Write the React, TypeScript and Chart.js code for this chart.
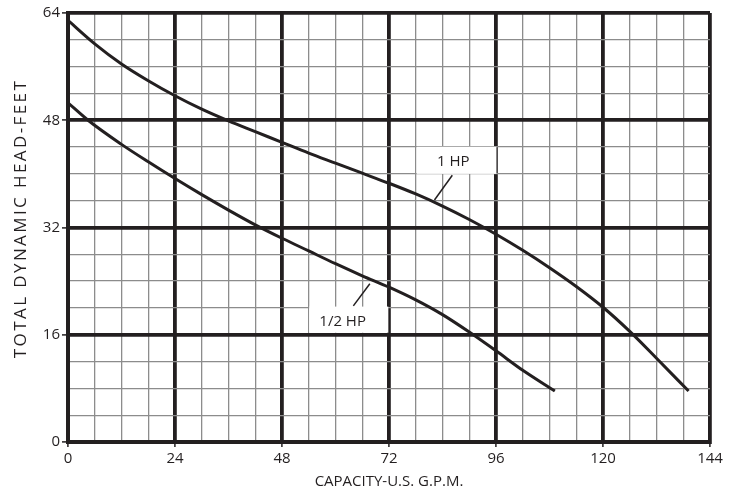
import React, { useEffect, useRef } from "react";
import { Chart, registerables } from "chart.js";
Chart.register(...registerables);

// Pump curves: capacity (U.S. GPM) vs total dynamic head (feet)
const capacity1HP = [0, 6, 12, 18, 24, 30, 36, 42, 48, 54, 60, 66, 72, 78, 84, 90, 96, 102, 108, 114, 120, 126, 132, 139.2];
const head1HP = [62.9, 59.4, 56.4, 53.9, 51.65, 49.65, 47.9, 46.3, 44.7, 43.1, 41.6, 40.1, 38.6, 37.0, 35.2, 33.2, 31.0, 28.6, 26.0, 23.2, 20.1, 16.5, 12.5, 7.6];

const capacityHalfHP = [0, 4.5, 12, 18, 24, 30, 36, 42, 48, 54, 60, 66, 72, 78, 84, 90, 96, 102, 109.2];
const headHalfHP = [50.6, 48, 44.4, 41.8, 39.3, 36.9, 34.6, 32.4, 30.4, 28.5, 26.6, 24.8, 23.1, 21.2, 19.0, 16.4, 13.6, 10.7, 7.6];

const xTickLabels = [0, 24, 48, 72, 96, 120, 144];
const yTickLabels = [0, 16, 32, 48, 64];

const xTitle = "CAPACITY-U.S. G.P.M.";
const yTitle = "TOTAL DYNAMIC HEAD-FEET";

const seriesNames = ["1 HP", "1/2 HP"];
// callout positions in data units
const calloutText = [86.4, 41.8, 61.6, 17.95];
const calloutBox = [
  [78.2, 96.1, 44.05, 40.0],
  [54.1, 71.85, 20.2, 16.3],
];
const calloutLeader = [
  [86.2, 39.8, 82.2, 36.1],
  [67.7, 23.6, 64.0, 20.3],
];

const INK = "#231f20";
const MINOR = "#8c8c8c";
const FONT = "'Open Sans', 'Liberation Sans', sans-serif";

const toPts = (xs: number[], ys: number[]) => xs.map((x, i) => ({ x, y: ys[i] }));

const calloutPlugin = {
  id: "callouts",
  beforeDatasetsDraw(chart: any) {
    const { ctx, scales } = chart;
    const xs = scales.x;
    const ys = scales.y;
    ctx.save();
    seriesNames.forEach((name, i) => {
      const [x0, x1, y0, y1] = calloutBox[i];
      const px0 = xs.getPixelForValue(x0);
      const px1 = xs.getPixelForValue(x1);
      const py0 = ys.getPixelForValue(y0);
      const py1 = ys.getPixelForValue(y1);
      ctx.fillStyle = "#ffffff";
      ctx.fillRect(px0, py0, px1 - px0, py1 - py0);
    });
    ctx.restore();
  },
  afterDatasetsDraw(chart: any) {
    const { ctx, scales, chartArea } = chart;
    const xs = scales.x;
    const ys = scales.y;
    ctx.save();
    seriesNames.forEach((name, i) => {
      const tx = xs.getPixelForValue(calloutText[i * 2]);
      const ty = ys.getPixelForValue(calloutText[i * 2 + 1]);
      ctx.fillStyle = INK;
      ctx.font = `15px ${FONT}`;
      ctx.textAlign = "center";
      ctx.textBaseline = "middle";
      ctx.fillText(name, tx, ty);
      const [a, b, c, d] = calloutLeader[i];
      ctx.strokeStyle = INK;
      ctx.lineWidth = 1.5;
      ctx.beginPath();
      ctx.moveTo(xs.getPixelForValue(a), ys.getPixelForValue(b));
      ctx.lineTo(xs.getPixelForValue(c), ys.getPixelForValue(d));
      ctx.stroke();
    });
    // y-axis title with letter spacing
    ctx.translate(21, (chartArea.top + chartArea.bottom) / 2 - 9);
    ctx.rotate(-Math.PI / 2);
    ctx.font = `17px ${FONT}`;
    (ctx as any).letterSpacing = "2.4px";
    ctx.textAlign = "center";
    ctx.textBaseline = "middle";
    ctx.fillStyle = INK;
    ctx.fillText(yTitle, 0, 0);
    ctx.restore();
  },
};

export default function App() {
  const ref = useRef<HTMLCanvasElement | null>(null);
  useEffect(() => {
    if (!ref.current) return;
    const isMajorX = (v: number) => xTickLabels.includes(v);
    const isMajorY = (v: number) => yTickLabels.includes(v);
    const chart = new Chart(ref.current, {
      type: "line",
      data: {
        datasets: [
          {
            label: seriesNames[0],
            data: toPts(capacity1HP, head1HP),
            borderColor: INK,
            borderWidth: 3,
            pointRadius: 0,
            cubicInterpolationMode: "monotone",
            fill: false,
          },
          {
            label: seriesNames[1],
            data: toPts(capacityHalfHP, headHalfHP),
            borderColor: INK,
            borderWidth: 3,
            pointRadius: 0,
            cubicInterpolationMode: "monotone",
            fill: false,
          },
        ],
      },
      options: {
        responsive: false,
        animation: false,
        layout: { padding: { top: 13, right: 29, left: 0, bottom: 0 } },
        plugins: { legend: { display: false }, tooltip: { enabled: false } },
        scales: {
          x: {
            type: "linear",
            min: 0,
            max: 144,
            afterFit: (s: any) => {
              s.height = 52;
            },
            ticks: {
              stepSize: 6,
              autoSkip: false,
              maxRotation: 0,
              padding: 3,
              color: INK,
              font: { family: FONT, size: 15 },
              callback: (v: any) => (isMajorX(v) ? String(v) : ""),
            },
            grid: {
              color: (c: any) => (isMajorX(c.tick.value) ? INK : MINOR),
              lineWidth: (c: any) => (isMajorX(c.tick.value) ? 3.8 : 1.3),
              tickColor: (c: any) => (isMajorX(c.tick.value) ? INK : "rgba(0,0,0,0)"),
              tickWidth: 1.5,
              tickLength: 5,
            },
            border: { color: INK, width: 4 },
            title: {
              display: true,
              text: xTitle,
              color: INK,
              font: { family: FONT, size: 15 },
              padding: { top: 0, bottom: 3 },
            },
          },
          y: {
            type: "linear",
            min: 0,
            max: 64,
            afterFit: (s: any) => {
              s.width = 68;
            },
            ticks: {
              stepSize: 4,
              autoSkip: false,
              padding: 2,
              color: INK,
              font: { family: FONT, size: 15 },
              callback: (v: any) => (isMajorY(v) ? String(v) : ""),
            },
            grid: {
              color: (c: any) => (isMajorY(c.tick.value) ? INK : MINOR),
              lineWidth: (c: any) => (isMajorY(c.tick.value) ? 3.8 : 1.3),
              tickColor: (c: any) => (isMajorY(c.tick.value) ? INK : "rgba(0,0,0,0)"),
              tickWidth: 1.5,
              tickLength: 6,
            },
            border: { color: INK, width: 4 },
            title: { display: false },
          },
        },
      },
      plugins: [calloutPlugin],
    } as any);
    return () => chart.destroy();
  }, []);
  return (
    <div style={{ position: "absolute", left: 0, top: 0, width: 739, height: 494, background: "#fff" }}>
      <canvas ref={ref} width={739} height={494} style={{ display: "block" }} />
    </div>
  );
}
